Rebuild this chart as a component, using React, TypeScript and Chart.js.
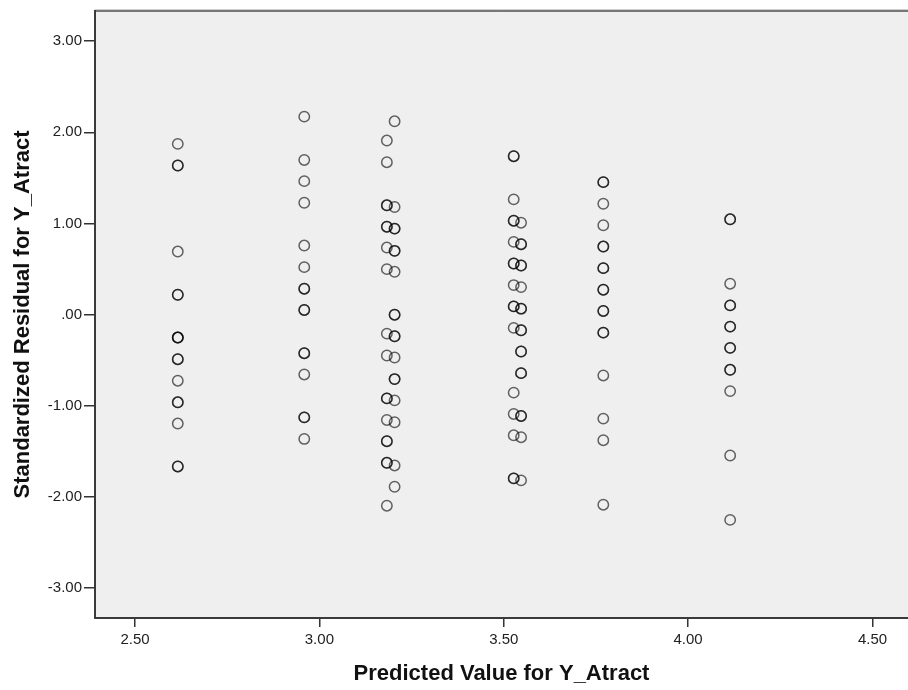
import React, { useEffect, useRef } from "react";
import { Chart, registerables } from "chart.js";

Chart.register(...registerables);

// Predicted values (x) of each vertical column of points
const predictedLevels = [2.616, 2.959, 3.183, 3.204, 3.527, 3.547, 3.77, 4.114];

// Standardized residuals (y) at each predicted level (repeated values = overlapping cases)
const residualsAt2616 = [1.873, 1.636, 1.636, 0.691, 0.217, 0.217, -0.253, -0.253, -0.253, -0.491, -0.491, -0.727, -0.964, -0.964, -1.197, -1.668, -1.668];
const residualsAt2959 = [2.172, 1.697, 1.464, 1.227, 0.757, 0.52, 0.283, 0.283, 0.05, 0.05, -0.425, -0.425, -0.658, -1.129, -1.129, -1.366];
const residualsAt3183 = [1.91, 1.672, 1.199, 1.199, 0.964, 0.964, 0.735, 0.498, -0.21, -0.45, -0.921, -0.921, -1.158, -1.391, -1.391, -1.628, -1.628, -2.099];
const residualsAt3204 = [2.121, 1.18, 0.943, 0.943, 0.699, 0.699, 0.469, -0.002, -0.002, -0.239, -0.239, -0.472, -0.709, -0.709, -0.943, -1.183, -1.657, -1.891];
const residualsAt3527 = [1.738, 1.738, 1.264, 1.03, 1.03, 0.797, 0.56, 0.56, 0.323, 0.089, 0.089, -0.147, -0.858, -1.092, -1.326, -1.799, -1.799];
const residualsAt3547 = [1.008, 0.772, 0.772, 0.538, 0.538, 0.301, 0.064, 0.064, -0.173, -0.173, -0.406, -0.406, -0.644, -0.644, -1.114, -1.114, -1.347, -1.821];
const residualsAt3770 = [1.453, 1.453, 1.216, 0.98, 0.746, 0.746, 0.509, 0.509, 0.272, 0.272, 0.039, 0.039, -0.199, -0.199, -0.669, -1.143, -1.38, -2.088];
const residualsAt4114 = [1.045, 1.045, 0.338, 0.1, 0.1, -0.133, -0.133, -0.366, -0.366, -0.607, -0.607, -0.841, -1.548, -2.255];

const residualGroups = [
  residualsAt2616,
  residualsAt2959,
  residualsAt3183,
  residualsAt3204,
  residualsAt3527,
  residualsAt3547,
  residualsAt3770,
  residualsAt4114,
];

const xTickValues = [2.5, 3.0, 3.5, 4.0, 4.5];
const yTickValues = [-3, -2, -1, 0, 1, 2, 3];
const xRange = [2.3915, 4.5963];
const yRange = [-3.332, 3.332];

const xAxisTitle = "Predicted Value for Y_Atract";
const yAxisTitle = "Standardized Residual for Y_Atract";

const FONT = "'Liberation Sans', Arial, sans-serif";

function formatTick(v: number): string {
  if (Math.abs(v) < 1e-9) return ".00";
  return v.toFixed(2);
}

const plotFrame = {
  id: "plotFrame",
  beforeDraw(chart: any) {
    const { ctx, chartArea: a } = chart;
    ctx.save();
    ctx.fillStyle = "#efefef";
    ctx.fillRect(a.left, a.top, a.right - a.left, a.bottom - a.top);
    ctx.restore();
  },
  beforeDatasetsDraw(chart: any) {
    const { ctx, chartArea: a } = chart;
    ctx.save();
    ctx.lineCap = "butt";
    // top border (lighter)
    ctx.strokeStyle = "#cfcfcf";
    ctx.lineWidth = 1;
    ctx.beginPath();
    ctx.moveTo(a.left, a.top - 1.5);
    ctx.lineTo(a.right, a.top - 1.5);
    ctx.stroke();
    ctx.strokeStyle = "#777777";
    ctx.lineWidth = 2;
    ctx.beginPath();
    ctx.moveTo(a.left, a.top);
    ctx.lineTo(a.right, a.top);
    ctx.stroke();
    // left and bottom borders
    ctx.strokeStyle = "#3a3a3a";
    ctx.lineWidth = 2;
    ctx.beginPath();
    ctx.moveTo(a.left, a.top - 1);
    ctx.lineTo(a.left, a.bottom);
    ctx.lineTo(a.right, a.bottom);
    ctx.stroke();
    ctx.restore();
  },
};

export default function App() {
  const canvasRef = useRef<HTMLCanvasElement | null>(null);

  useEffect(() => {
    const canvas = canvasRef.current;
    if (!canvas) return;

    const points: { x: number; y: number }[] = [];
    predictedLevels.forEach((x, i) => {
      residualGroups[i].forEach((y) => points.push({ x, y }));
    });

    const chart = new Chart(canvas, {
      type: "scatter",
      data: {
        datasets: [
          {
            label: "Residuals",
            data: points,
            pointStyle: "circle",
            pointRadius: 5.2,
            pointHoverRadius: 5.2,
            pointBorderWidth: 1.5,
            borderColor: "rgba(0,0,0,0.6)",
            backgroundColor: "rgba(0,0,0,0)",
            showLine: false,
          },
        ],
      },
      plugins: [plotFrame],
      options: {
        animation: false,
        responsive: false,
        devicePixelRatio: 1,
        events: [],
        layout: { autoPadding: false, padding: { top: 10, left: 0, right: 0, bottom: 0 } },
        plugins: {
          legend: { display: false },
          tooltip: { enabled: false },
        },
        scales: {
          x: {
            type: "linear",
            min: xRange[0],
            max: xRange[1],
            afterBuildTicks: (scale: any) => {
              scale.ticks = xTickValues.map((v) => ({ value: v }));
            },
            afterFit: (scale: any) => {
              scale.height = 72;
            },
            border: { display: false },
            grid: {
              display: true,
              drawOnChartArea: false,
              drawTicks: true,
              tickLength: 9,
              color: "#333333",
              lineWidth: 1.5,
            },
            ticks: {
              autoSkip: false,
              maxRotation: 0,
              padding: 4,
              color: "#222222",
              font: { family: FONT, size: 15 },
              callback: (v: any) => formatTick(Number(v)),
            },
            title: {
              display: true,
              text: xAxisTitle,
              color: "#111111",
              font: { family: FONT, size: 22, weight: "bold" },
              padding: { top: 0, bottom: 3 },
            },
          },
          y: {
            type: "linear",
            min: yRange[0],
            max: yRange[1],
            afterBuildTicks: (scale: any) => {
              scale.ticks = yTickValues.map((v) => ({ value: v }));
            },
            afterFit: (scale: any) => {
              scale.width = 95;
            },
            border: { display: false },
            grid: {
              display: true,
              drawOnChartArea: false,
              drawTicks: true,
              tickLength: 11,
              color: "#333333",
              lineWidth: 1.5,
            },
            ticks: {
              autoSkip: false,
              padding: 2,
              color: "#222222",
              font: { family: FONT, size: 15 },
              callback: (v: any) => formatTick(Number(v)),
            },
            title: {
              display: true,
              text: yAxisTitle,
              color: "#111111",
              font: { family: FONT, size: 22, weight: "bold" },
              padding: { top: 10, bottom: 0 },
            },
          },
        },
      } as any,
    });

    return () => {
      chart.destroy();
    };
  }, []);

  return (
    <div style={{ position: "absolute", left: 0, top: 0, width: 908, height: 690, background: "#ffffff" }}>
      <canvas ref={canvasRef} width={908} height={690} style={{ display: "block", width: 908, height: 690 }} />
    </div>
  );
}
